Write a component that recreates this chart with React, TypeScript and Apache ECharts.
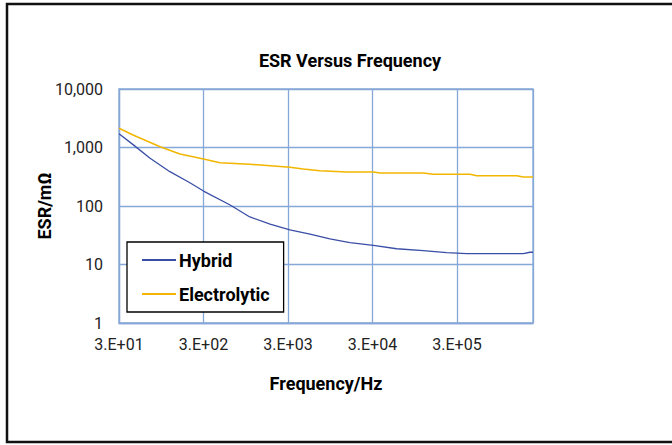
import React, { useEffect, useRef } from "react";
import * as echarts from "echarts";

const hybridFreq = [30, 44, 70, 120, 200, 300, 620, 1060, 1840, 3160, 5460, 9400, 16200, 30700, 58000, 119600, 226000, 390000, 1830000, 2190000, 2380000];
const hybridESR = [1720, 1120, 653, 386, 257, 180, 104, 65, 49, 39, 33, 27.3, 23.6, 21.3, 18.6, 17.2, 15.9, 15.3, 15.3, 16.2, 16.2];

const electroFreq = [30, 44, 92, 158, 300, 470, 1060, 3160, 4550, 7170, 14800, 30700, 36800, 120000, 157000, 428000, 513000, 1530000, 1830000, 2380000];
const electroESR = [2130, 1636, 1032, 774, 636, 550, 516, 459, 429, 401, 381, 381, 367, 367, 348, 348, 330, 330, 313, 313];

const xTickExponents = [1, 2, 3, 4, 5];
const xBase = 30;
const xMaxFreq = 2380000;

const toX = (f: number) => Math.log10(f / xBase);

export default function App() {
  const ref = useRef<HTMLDivElement>(null);
  useEffect(() => {
    if (!ref.current) return;
    const chart = echarts.init(ref.current, undefined, { renderer: "svg" });
    const gridColor = "#86a8d8";
    const font = "Roboto";
    const blue = "#3a4ea6";
    const gold = "#f2b600";
    chart.setOption({
      animation: false,
      backgroundColor: "#ffffff",
      textStyle: { fontFamily: font },
      title: {
        text: "ESR Versus Frequency",
        left: 345,
        textAlign: "center",
        top: 46,
        textStyle: { fontFamily: font, fontSize: 18, fontWeight: "bold", color: "#000" },
      },
      graphic: [
        {
          type: "rect",
          shape: { x: 7, y: 4, width: 700, height: 438 },
          style: { fill: "none", stroke: "#111", lineWidth: 2.5 },
          silent: true,
        },
      ],
      grid: {
        left: 119,
        top: 89,
        width: 414,
        height: 234,
        show: true,
        borderColor: gridColor,
        borderWidth: 1.3,
        backgroundColor: "transparent",
      },
      legend: {
        orient: "vertical",
        left: 127,
        top: 242,
        padding: [9, 14, 9, 15],
        itemGap: 16,
        itemWidth: 34,
        itemHeight: 2,
        icon: "rect",
        borderColor: "#000",
        borderWidth: 1.3,
        borderRadius: 0,
        backgroundColor: "#fff",
        textStyle: { fontFamily: font, fontSize: 18, fontWeight: "bold", color: "#000", padding: [0, 0, 0, -2] },
        data: ["Hybrid", "Electrolytic"],
      },
      xAxis: {
        type: "value",
        min: 0,
        max: toX(xMaxFreq),
        interval: 1,
        name: "Frequency/Hz",
        nameLocation: "middle",
        nameGap: 51,
        nameMoveOverlap: false,
        nameTextStyle: { fontFamily: font, fontSize: 18, fontWeight: "bold", color: "#000" },
        axisLine: { show: true, lineStyle: { color: gridColor, width: 1.3 } },
        axisTick: { show: false },
        splitLine: { show: true, lineStyle: { color: gridColor, width: 1.3 } },
        axisLabel: {
          margin: 13,
          fontSize: 16,
          color: "#222",
          fontFamily: font,
          formatter: (v: number) => {
            const i = Math.round(v);
            if (Math.abs(v - i) > 1e-6) return "";
            const e = xTickExponents[i];
            return e === undefined ? "" : "3.E+" + String(e).padStart(2, "0");
          },
        },
      },
      yAxis: {
        type: "log",
        logBase: 10,
        min: 1,
        max: 10000,
        name: "ESR/mΩ",
        nameLocation: "middle",
        nameGap: 66,
        nameMoveOverlap: false,
        nameTextStyle: { fontFamily: font, fontSize: 18, fontWeight: "bold", color: "#000" },
        axisLine: { show: true, lineStyle: { color: gridColor, width: 1.3 } },
        axisTick: { show: false },
        splitLine: { show: true, lineStyle: { color: gridColor, width: 1.3 } },
        axisLabel: {
          margin: 16,
          fontSize: 16,
          color: "#222",
          fontFamily: font,
          formatter: (v: number) => Math.round(v).toLocaleString("en-US"),
        },
      },
      series: [
        {
          name: "Hybrid",
          type: "line",
          symbol: "none",
          data: hybridFreq.map((f, i) => [toX(f), hybridESR[i]]),
          lineStyle: { color: blue, width: 1.3 },
          itemStyle: { color: blue },
        },
        {
          name: "Electrolytic",
          type: "line",
          symbol: "none",
          data: electroFreq.map((f, i) => [toX(f), electroESR[i]]),
          lineStyle: { color: gold, width: 1.5 },
          itemStyle: { color: gold },
        },
      ],
    });
    return () => chart.dispose();
  }, []);
  return (
    <div
      ref={ref}
      style={{ position: "absolute", left: 0, top: 0, width: 672, height: 445 }}
    />
  );
}
